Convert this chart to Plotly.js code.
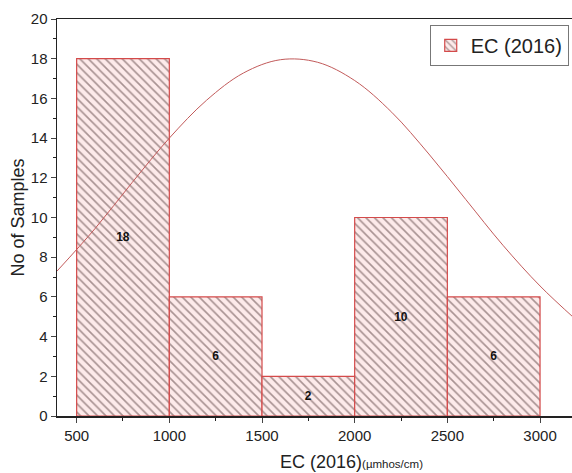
<!DOCTYPE html>
<html><head><meta charset="utf-8">
<script src="https://cdn.plot.ly/plotly-3.0.1.min.js"></script>
<style>html,body{margin:0;padding:0;overflow:hidden;background:#fff}</style>
</head><body>
<div id="chart" style="width:580px;height:473px"></div>
<script>
// Histogram bins (bin centres, width 500) and counts
const binCenters = [750, 1250, 1750, 2250, 2750];
const counts = [18, 6, 2, 10, 6];
const countLabels = ['18', '6', '2', '10', '6'];
// Distribution curve, points
const curveX = [394, 600, 800, 1000, 1200, 1400, 1600, 1800, 2000, 2200, 2400, 2600, 2800, 3000, 3194];
const curveY = [7.3, 9.45, 11.77, 14.0, 15.9, 17.28, 17.95, 17.82, 16.9, 15.3, 13.2, 10.9, 8.6, 6.55, 4.85];
const xTicks = [500, 1000, 1500, 2000, 2500, 3000];
const yTicks = [0, 2, 4, 6, 8, 10, 12, 14, 16, 18, 20];

const font = 'Arial, "Liberation Sans", sans-serif';

const traces = [
  {
    type: 'bar', x: binCenters, y: counts, width: 500, name: 'EC (2016)',
    text: countLabels, textposition: 'inside', insidetextanchor: 'middle',
    textfont: {family: font, size: 12, color: '#111', weight: 'bold'},
    textangle: 0,
    marker: {color: '#fdeaea', line: {color: '#d44a4a', width: 1.2},
      pattern: {shape: '\\', fgcolor: '#a89292', bgcolor: '#fdeaea', size: 6, solidity: 0.27}},
    showlegend: true, hoverinfo: 'skip'
  },
  {
    type: 'scatter', mode: 'lines', x: curveX, y: curveY,
    line: {color: '#c25a5a', width: 1, shape: 'spline', smoothing: 1},
    showlegend: false, hoverinfo: 'skip'
  }
];

const layout = {
  width: 580, height: 473,
  margin: {l: 57, r: 4, t: 19, b: 57.3},
  paper_bgcolor: '#fff', plot_bgcolor: '#fff',
  bargap: 0,
  font: {family: font, color: '#222'},
  xaxis: {
    range: [394, 3194], tickvals: xTicks, ticks: 'outside', ticklen: 5, tickwidth: 1,
    tickfont: {family: font, size: 15, color: '#222'},
    showline: true, linecolor: '#222', linewidth: 1.5, mirror: true,
    showgrid: false, zeroline: false,
    minor: {tickvals: [750, 1250, 1750, 2250, 2750], ticks: 'outside', ticklen: 3, tickcolor: '#222', showgrid: false}
  },
  yaxis: {
    range: [0, 20], tickvals: yTicks, ticks: 'outside', ticklen: 5, tickwidth: 1,
    tickfont: {family: font, size: 15, color: '#222'},
    showline: true, linecolor: '#222', linewidth: 1.5, mirror: true,
    showgrid: false, zeroline: false,
    title: {text: 'No of Samples', font: {family: font, size: 18, color: '#222'}, standoff: 1},
    minor: {dtick: 1, ticks: 'outside', ticklen: 3, tickcolor: '#222', showgrid: false}
  },
  legend: {
    x: 0.986, xanchor: 'right', y: 0.985, yanchor: 'top',
    bgcolor: '#fff', bordercolor: '#777', borderwidth: 1,
    font: {family: font, size: 20, color: '#222'},
    tracegroupgap: 0
  },
  annotations: [{
    xref: 'paper', yref: 'paper', x: (351.5 - 57) / 519, y: -0.115, xanchor: 'center', yanchor: 'middle',
    showarrow: false,
    text: 'EC (2016)<span style="font-size:11.5px">(µmhos/cm)</span>',
    font: {family: font, size: 18, color: '#222'}
  }]
};

Plotly.newPlot('chart', traces, layout, {displayModeBar: false, staticPlot: true});
</script>
</body></html>
